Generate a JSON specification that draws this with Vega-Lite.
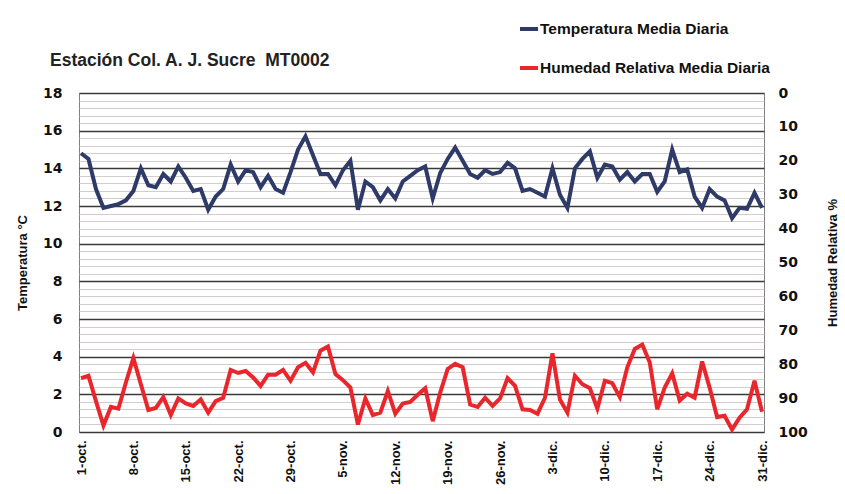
{
  "$schema": "https://vega.github.io/schema/vega-lite/v6.json",
  "width": 685,
  "height": 339,
  "autosize": {"type": "none"},
  "padding": {"left": 79, "top": 93, "right": 81, "bottom": 62},
  "background": "white",
  "config": {"view": {"stroke": "#7f7f7f", "strokeWidth": 1}, "font": "Liberation Sans"},
  "title": {"text": "Estación Col. A. J. Sucre\u00a0 MT0002", "anchor": "start", "frame": "group", "dx": -29, "offset": -51, "fontSize": 17.5, "font": "Liberation Sans", "fontWeight": "bold", "color": "#222222"},
  "data": {"values": [
    {"date": "2023-10-01", "temp": 14.8, "hum": 84.1},
    {"date": "2023-10-02", "temp": 14.5, "hum": 83.4},
    {"date": "2023-10-03", "temp": 12.9, "hum": 90.9},
    {"date": "2023-10-04", "temp": 11.9, "hum": 98.1},
    {"date": "2023-10-05", "temp": 12.0, "hum": 92.6},
    {"date": "2023-10-06", "temp": 12.1, "hum": 93.1},
    {"date": "2023-10-07", "temp": 12.3, "hum": 85.4},
    {"date": "2023-10-08", "temp": 12.8, "hum": 78.2},
    {"date": "2023-10-09", "temp": 14.0, "hum": 85.9},
    {"date": "2023-10-10", "temp": 13.1, "hum": 93.5},
    {"date": "2023-10-11", "temp": 13.0, "hum": 92.9},
    {"date": "2023-10-12", "temp": 13.7, "hum": 89.7},
    {"date": "2023-10-13", "temp": 13.3, "hum": 95.0},
    {"date": "2023-10-14", "temp": 14.1, "hum": 90.1},
    {"date": "2023-10-15", "temp": 13.5, "hum": 91.6},
    {"date": "2023-10-16", "temp": 12.8, "hum": 92.3},
    {"date": "2023-10-17", "temp": 12.9, "hum": 90.4},
    {"date": "2023-10-18", "temp": 11.8, "hum": 94.3},
    {"date": "2023-10-19", "temp": 12.5, "hum": 90.9},
    {"date": "2023-10-20", "temp": 12.9, "hum": 89.9},
    {"date": "2023-10-21", "temp": 14.2, "hum": 81.7},
    {"date": "2023-10-22", "temp": 13.3, "hum": 82.6},
    {"date": "2023-10-23", "temp": 13.9, "hum": 82.0},
    {"date": "2023-10-24", "temp": 13.8, "hum": 83.9},
    {"date": "2023-10-25", "temp": 13.0, "hum": 86.4},
    {"date": "2023-10-26", "temp": 13.6, "hum": 83.1},
    {"date": "2023-10-27", "temp": 12.9, "hum": 83.1},
    {"date": "2023-10-28", "temp": 12.7, "hum": 81.7},
    {"date": "2023-10-29", "temp": 13.8, "hum": 84.9},
    {"date": "2023-10-30", "temp": 15.0, "hum": 80.9},
    {"date": "2023-10-31", "temp": 15.7, "hum": 79.6},
    {"date": "2023-11-01", "temp": 14.7, "hum": 82.4},
    {"date": "2023-11-02", "temp": 13.7, "hum": 76.0},
    {"date": "2023-11-03", "temp": 13.7, "hum": 74.8},
    {"date": "2023-11-04", "temp": 13.1, "hum": 82.9},
    {"date": "2023-11-05", "temp": 13.9, "hum": 84.7},
    {"date": "2023-11-06", "temp": 14.4, "hum": 86.9},
    {"date": "2023-11-07", "temp": 11.8, "hum": 97.8},
    {"date": "2023-11-08", "temp": 13.3, "hum": 90.1},
    {"date": "2023-11-09", "temp": 13.0, "hum": 95.0},
    {"date": "2023-11-10", "temp": 12.3, "hum": 94.3},
    {"date": "2023-11-11", "temp": 12.9, "hum": 87.9},
    {"date": "2023-11-12", "temp": 12.4, "hum": 94.6},
    {"date": "2023-11-13", "temp": 13.3, "hum": 91.6},
    {"date": "2023-11-14", "temp": 13.6, "hum": 91.1},
    {"date": "2023-11-15", "temp": 13.9, "hum": 89.0},
    {"date": "2023-11-16", "temp": 14.1, "hum": 87.1},
    {"date": "2023-11-17", "temp": 12.4, "hum": 96.8},
    {"date": "2023-11-18", "temp": 13.75, "hum": 88.4},
    {"date": "2023-11-19", "temp": 14.5, "hum": 81.4},
    {"date": "2023-11-20", "temp": 15.1, "hum": 79.9},
    {"date": "2023-11-21", "temp": 14.4, "hum": 80.9},
    {"date": "2023-11-22", "temp": 13.7, "hum": 91.9},
    {"date": "2023-11-23", "temp": 13.5, "hum": 92.6},
    {"date": "2023-11-24", "temp": 13.9, "hum": 89.9},
    {"date": "2023-11-25", "temp": 13.7, "hum": 92.3},
    {"date": "2023-11-26", "temp": 13.8, "hum": 90.1},
    {"date": "2023-11-27", "temp": 14.3, "hum": 84.1},
    {"date": "2023-11-28", "temp": 14.0, "hum": 86.4},
    {"date": "2023-11-29", "temp": 12.8, "hum": 93.3},
    {"date": "2023-11-30", "temp": 12.9, "hum": 93.5},
    {"date": "2023-12-01", "temp": 12.7, "hum": 94.6},
    {"date": "2023-12-02", "temp": 12.5, "hum": 89.9},
    {"date": "2023-12-03", "temp": 14.0, "hum": 76.8},
    {"date": "2023-12-04", "temp": 12.6, "hum": 90.4},
    {"date": "2023-12-05", "temp": 11.9, "hum": 94.3},
    {"date": "2023-12-06", "temp": 14.0, "hum": 83.4},
    {"date": "2023-12-07", "temp": 14.5, "hum": 85.9},
    {"date": "2023-12-08", "temp": 14.9, "hum": 87.1},
    {"date": "2023-12-09", "temp": 13.5, "hum": 93.1},
    {"date": "2023-12-10", "temp": 14.2, "hum": 84.9},
    {"date": "2023-12-11", "temp": 14.1, "hum": 85.6},
    {"date": "2023-12-12", "temp": 13.4, "hum": 89.7},
    {"date": "2023-12-13", "temp": 13.8, "hum": 80.9},
    {"date": "2023-12-14", "temp": 13.3, "hum": 75.5},
    {"date": "2023-12-15", "temp": 13.7, "hum": 74.2},
    {"date": "2023-12-16", "temp": 13.7, "hum": 79.5},
    {"date": "2023-12-17", "temp": 12.75, "hum": 93.3},
    {"date": "2023-12-18", "temp": 13.3, "hum": 86.9},
    {"date": "2023-12-19", "temp": 15.0, "hum": 82.7},
    {"date": "2023-12-20", "temp": 13.8, "hum": 90.7},
    {"date": "2023-12-21", "temp": 13.95, "hum": 88.7},
    {"date": "2023-12-22", "temp": 12.5, "hum": 89.9},
    {"date": "2023-12-23", "temp": 11.9, "hum": 79.2},
    {"date": "2023-12-24", "temp": 12.9, "hum": 86.9},
    {"date": "2023-12-25", "temp": 12.5, "hum": 95.6},
    {"date": "2023-12-26", "temp": 12.3, "hum": 95.2},
    {"date": "2023-12-27", "temp": 11.35, "hum": 99.3},
    {"date": "2023-12-28", "temp": 11.9, "hum": 95.8},
    {"date": "2023-12-29", "temp": 11.85, "hum": 93.3},
    {"date": "2023-12-30", "temp": 12.7, "hum": 84.9},
    {"date": "2023-12-31", "temp": 11.9, "hum": 94.0}
  ]},
  "encoding": {
    "x": {
      "field": "date", "type": "temporal",
      "scale": {"type": "utc", "domain": [{"year": 2023, "month": 10, "date": 1, "utc": true}, {"year": 2023, "month": 12, "date": 31, "utc": true}], "padding": 2},
      "axis": {
        "title": null, "grid": false, "domain": false, "ticks": false,
        "values": [
          {"year": 2023, "month": 10, "date": 1, "utc": true},
          {"year": 2023, "month": 10, "date": 8, "utc": true},
          {"year": 2023, "month": 10, "date": 15, "utc": true},
          {"year": 2023, "month": 10, "date": 22, "utc": true},
          {"year": 2023, "month": 10, "date": 29, "utc": true},
          {"year": 2023, "month": 11, "date": 5, "utc": true},
          {"year": 2023, "month": 11, "date": 12, "utc": true},
          {"year": 2023, "month": 11, "date": 19, "utc": true},
          {"year": 2023, "month": 11, "date": 26, "utc": true},
          {"year": 2023, "month": 12, "date": 3, "utc": true},
          {"year": 2023, "month": 12, "date": 10, "utc": true},
          {"year": 2023, "month": 12, "date": 17, "utc": true},
          {"year": 2023, "month": 12, "date": 24, "utc": true},
          {"year": 2023, "month": 12, "date": 31, "utc": true}
        ],
        "labelExpr": "utcdate(datum.value) + '-' + ['ene.','feb.','mar.','abr.','may.','jun.','jul.','ago.','sep.','oct.','nov.','dic.'][utcmonth(datum.value)]",
        "labelAngle": -90, "labelPadding": 8, "labelFont": "Liberation Sans", "labelFontWeight": "bold", "labelFontSize": 13, "labelColor": "#111111", "labelOverlap": false, "labelBound": false, "labelFlush": false
      }
    }
  },
  "layer": [
    {
      "mark": {"type": "line", "strokeWidth": 4, "strokeJoin": "miter", "clip": false},
      "encoding": {
        "y": {
          "field": "temp", "type": "quantitative",
          "scale": {"domain": [0, 18], "nice": false, "zero": true},
          "axis": {
            "title": "Temperatura °C", "titleFont": "Liberation Sans", "titleFontWeight": "bold", "titleFontSize": 13, "titleColor": "#111111", "titlePadding": 13,
            "values": [0, 0.4, 0.8, 1.2, 1.6, 2, 2.4, 2.8, 3.2, 3.6, 4, 4.4, 4.8, 5.2, 5.6, 6, 6.4, 6.8, 7.2, 7.6, 8, 8.4, 8.8, 9.2, 9.6, 10, 10.4, 10.8, 11.2, 11.6, 12, 12.4, 12.8, 13.2, 13.6, 14, 14.4, 14.8, 15.2, 15.6, 16, 16.4, 16.8, 17.2, 17.6, 18],
            "labelExpr": "datum.value % 2 === 0 ? format(datum.value, 'd') : ''",
            "labelOverlap": false,
            "grid": true,
            "gridColor": {"condition": {"test": "datum.value % 2 === 0", "value": "#3a3a3a"}, "value": "#d5cccc"},
            "gridWidth": {"condition": {"test": "datum.value % 2 === 0", "value": 1.5}, "value": 1},
            "domain": false, "ticks": false, "labelPadding": 17,
            "labelFont": "DejaVu Sans", "labelFontWeight": "bold", "labelFontSize": 14, "labelColor": "#111111"
          }
        },
        "color": {
          "datum": "Temperatura Media Diaria",
          "scale": {"domain": ["Temperatura Media Diaria", "Humedad Relativa Media Diaria"], "range": ["#2e3a68", "#e8262b"]},
          "legend": {
            "title": null, "orient": "none", "legendX": 439, "legendY": -75,
            "symbolType": "stroke", "symbolSize": 324, "symbolStrokeWidth": 4, "rowPadding": 19,
            "labelFont": "Liberation Sans", "labelFontWeight": "bold", "labelFontSize": 15.5, "labelColor": "#111111", "labelLimit": 400, "labelOffset": 0
          }
        }
      }
    },
    {
      "mark": {"type": "line", "strokeWidth": 4, "strokeJoin": "miter", "clip": false},
      "encoding": {
        "y": {
          "field": "hum", "type": "quantitative",
          "scale": {"domain": [0, 100], "nice": false, "reverse": true},
          "axis": {
            "orient": "right", "title": "Humedad Relativa %", "titleAngle": -90, "titleFont": "Liberation Sans", "titleFontWeight": "bold", "titleFontSize": 13, "titleColor": "#111111", "titlePadding": 32,
            "values": [0, 10, 20, 30, 40, 50, 60, 70, 80, 90, 100],
            "grid": false, "domain": false, "ticks": false, "labelPadding": 14,
            "labelFont": "DejaVu Sans", "labelFontWeight": "bold", "labelFontSize": 14, "labelColor": "#111111"
          }
        },
        "color": {"datum": "Humedad Relativa Media Diaria"}
      }
    }
  ],
  "resolve": {"scale": {"y": "independent"}}
}
